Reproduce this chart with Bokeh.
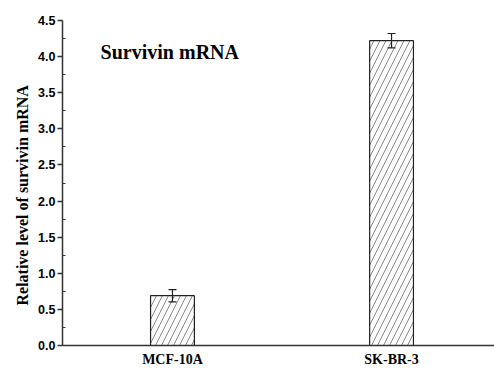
from bokeh.plotting import figure
from bokeh.models import (ColumnDataSource, Range1d, FixedTicker, Whisker, TeeHead, Label, Title)
from bokeh.embed import file_html
from bokeh.resources import INLINE

# Data
categories = ["MCF-10A", "SK-BR-3"]
positions = [1, 2]
values = [0.69, 4.22]
errors = [0.085, 0.10]
y_ticks = [0.0, 0.5, 1.0, 1.5, 2.0, 2.5, 3.0, 3.5, 4.0, 4.5]
title_text = "Survivin mRNA"
y_label = "Relative level of survivin mRNA"

upper = [v + e for v, e in zip(values, errors)]
lower = [v - e for v, e in zip(values, errors)]
src = ColumnDataSource(dict(x=positions, top=values, upper=upper, lower=lower))

p = figure(width=494, height=369, output_backend="svg", toolbar_location=None,
           x_range=Range1d(0.498, 2.47), y_range=Range1d(0, 4.5),
           min_border_left=62, min_border_right=0, min_border_top=20, min_border_bottom=22)
p.outline_line_color = None
p.xgrid.visible = False
p.ygrid.visible = False
p.background_fill_color = "white"
p.border_fill_color = "white"

p.vbar(x="x", top="top", width=0.2, source=src, fill_color="white",
       line_color="#222222", line_width=1.2,
       hatch_pattern="/", hatch_color="#8a8a8a", hatch_scale=12, hatch_weight=1)

w = Whisker(base="x", upper="upper", lower="lower", source=src, line_color="#222222", line_width=1.2,
            upper_head=TeeHead(size=8, line_color="#222222", line_width=1.2),
            lower_head=TeeHead(size=8, line_color="#222222", line_width=1.2),
            level="overlay")
p.add_layout(w)

# axes
p.yaxis.ticker = FixedTicker(ticks=y_ticks, minor_ticks=[0.25 + 0.5 * i for i in range(9)])
p.yaxis.major_label_overrides = {t: f"{t:.1f}" for t in y_ticks}
p.yaxis.major_tick_out = 5
p.yaxis.major_tick_in = 0
p.yaxis.minor_tick_in = 3
p.yaxis.minor_tick_out = 0
p.yaxis.axis_line_width = 1.5
p.yaxis.axis_line_color = "#333333"
p.yaxis.major_tick_line_color = "#333333"
p.yaxis.major_tick_line_width = 1.5
p.yaxis.minor_tick_line_color = "#333333"
p.yaxis.major_label_text_font = "Liberation Sans"
p.yaxis.major_label_text_font_style = "bold"
p.yaxis.major_label_text_font_size = "12.5px"
p.yaxis.major_label_text_color = "#000000"
p.yaxis.major_label_standoff = 2

p.xaxis.ticker = FixedTicker(ticks=positions, minor_ticks=[])
p.xaxis.major_label_overrides = {pos: c for pos, c in zip(positions, categories)}
p.xaxis.major_tick_out = 0
p.xaxis.major_tick_in = 0
p.xaxis.minor_tick_in = 0
p.xaxis.minor_tick_out = 0
p.xaxis.axis_line_width = 1.5
p.xaxis.axis_line_color = "#333333"
p.xaxis.major_label_text_font = "Liberation Serif"
p.xaxis.major_label_text_font_style = "bold"
p.xaxis.major_label_text_font_size = "14px"
p.xaxis.major_label_text_color = "#000000"
p.xaxis.major_label_standoff = 6

# y axis label as a side title (allows offset along the axis)
ylab = Title(text=y_label, align="left", offset=40,
             text_font="Liberation Serif", text_font_style="bold", text_font_size="16px",
             text_color="#000000", standoff=10)
p.add_layout(ylab, "left")

tl = Label(x=0.672, y=4.06, text=title_text,
           text_font="Liberation Serif", text_font_style="bold", text_font_size="20px",
           text_align="left", text_baseline="alphabetic", text_color="#000000")
p.add_layout(tl)

open("out.html", "w").write(file_html(p, INLINE))
